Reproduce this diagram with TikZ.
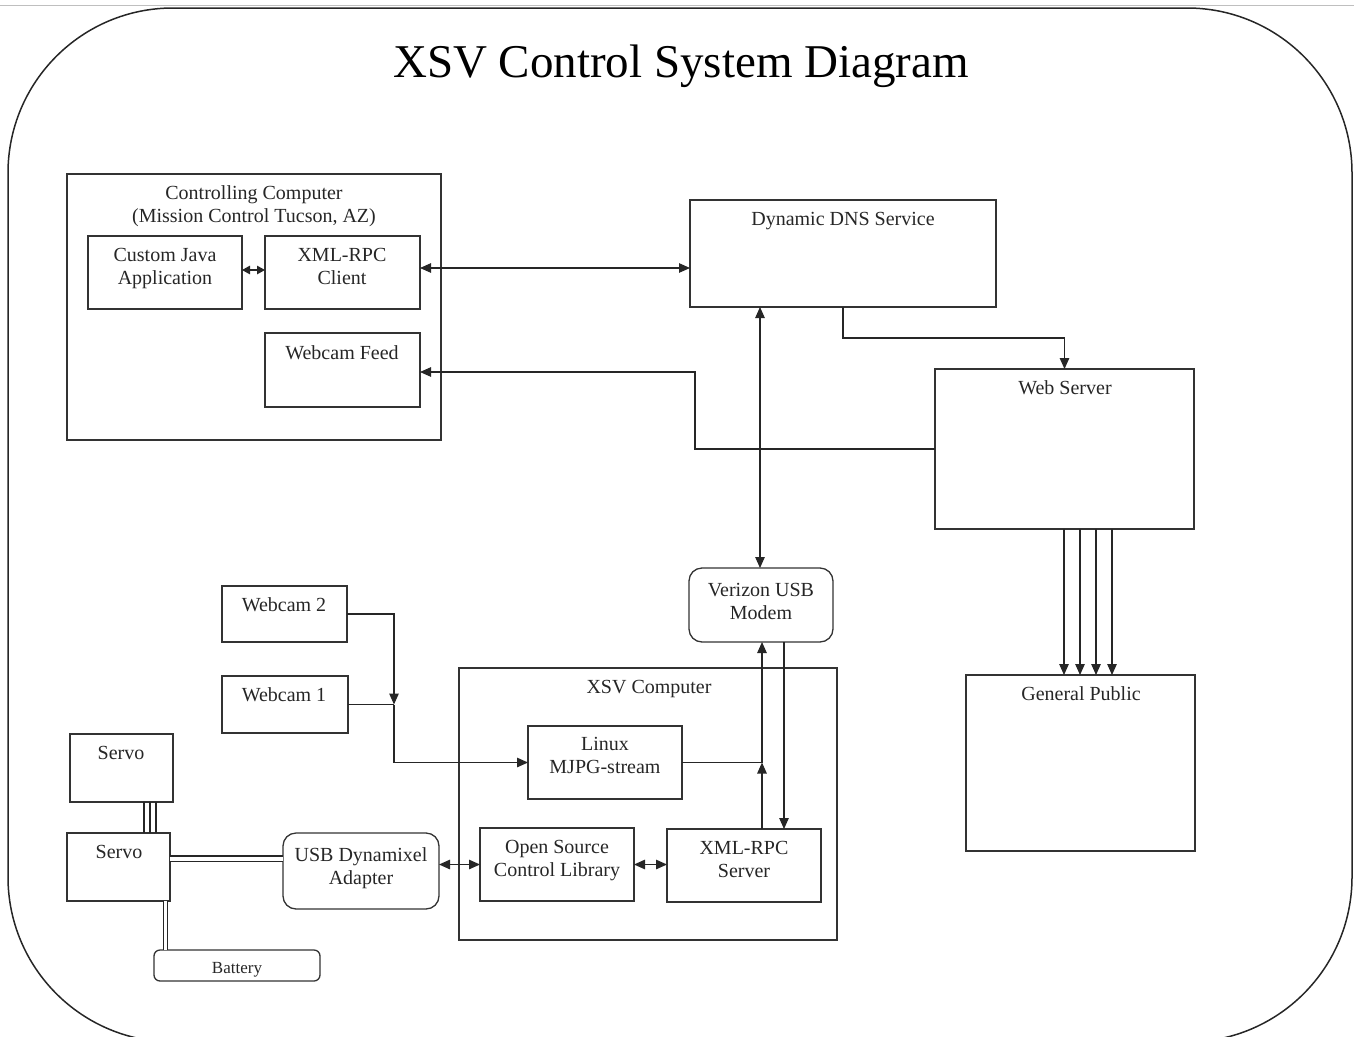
\documentclass[tikz,border=0pt]{standalone}
\usepackage{fontspec}
\setmainfont{Liberation Serif}
\usetikzlibrary{arrows.meta}
\begin{document}
\begin{tikzpicture}[x=1pt,y=-1pt,
  box/.style={draw=black!80, line width=1.3pt, rectangle, inner sep=0pt, outer sep=0pt, anchor=north west},
  rbox/.style={box, rounded corners=13pt},
  lbl/.style={font=\fontsize{20}{23}\selectfont, align=center, anchor=base, inner sep=0pt, text=black!85},
  tip/.tip={Triangle[length=11pt,width=9.5pt]},
  stip/.tip={Triangle[length=8pt,width=8.5pt]},
  arr/.style={line width=1.2pt, draw=black!85, -tip},
  darr/.style={line width=1.2pt, draw=black!85, tip-tip},
  sdarr/.style={line width=1.2pt, draw=black!85, stip-stip},
  wire/.style={line width=1.2pt, draw=black!85},
  dwire/.style={draw=black!85, line width=1.1pt, double, double distance=4pt}]

\useasboundingbox (0,0) rectangle (1354,1036);
\clip (0,0) rectangle (1354,1036);
\draw[black!25, line width=1pt] (0,5) -- (1354,5);
\draw[black!85, line width=1.5pt, rounded corners=165pt] (8,8) rectangle (1352,1042);

\node[font=\fontsize{47}{56}\selectfont, anchor=base, inner sep=0pt] (title) at (681,77) {XSV Control System Diagram};

% Controlling computer
\node[box, minimum width=374pt, minimum height=266pt] (cc) at (67,174) {};
\node[lbl] (cct) at (254,222) {Controlling Computer\\(Mission Control Tucson, AZ)};
\node[box, minimum width=154pt, minimum height=73pt] (cja) at (88,236) {};
\node[lbl] (cjat) at (165,284) {Custom Java\\Application};
\node[box, minimum width=155pt, minimum height=73pt] (xcl) at (265,236) {};
\node[lbl] (xclt) at (342,284) {XML-RPC\\Client};
\node[box, minimum width=155pt, minimum height=74pt] (wf) at (265,333) {};
\node[lbl] (wft) at (342,359) {Webcam Feed};

% DNS, web server, public
\node[box, minimum width=306pt, minimum height=107pt] (dns) at (690,200) {};
\node[lbl] (dnst) at (843,225) {Dynamic DNS Service};
\node[box, minimum width=259pt, minimum height=160pt] (web) at (935,369) {};
\node[lbl] (webt) at (1065,394) {Web Server};
\node[box, minimum width=229pt, minimum height=176pt] (gp) at (966,675) {};
\node[lbl] (gpt) at (1081,700) {General Public};

% Modem
\node[rbox, minimum width=144pt, minimum height=74pt] (vm) at (689,568) {};
\node[lbl] (vmt) at (761,619) {Verizon USB\\Modem};

% XSV computer
\node[box, minimum width=378pt, minimum height=272pt] (xsv) at (459,668) {};
\node[lbl] (xsvt) at (649,693) {XSV Computer};
\node[box, minimum width=154pt, minimum height=73pt] (lin) at (528,726) {};
\node[lbl] (lint) at (605,773) {Linux\\MJPG-stream};
\node[box, minimum width=154pt, minimum height=73pt] (oscl) at (480,828) {};
\node[lbl] (osclt) at (557,876) {Open Source\\Control Library};
\node[box, minimum width=154pt, minimum height=73pt] (xs) at (667,829) {};
\node[lbl] (xst) at (744,877) {XML-RPC\\Server};

% USB adapter
\node[rbox, minimum width=156pt, minimum height=76pt] (usb) at (283,833) {};
\node[lbl] (usbt) at (361,884) {USB Dynamixel\\Adapter};

% Webcams
\node[box, minimum width=125pt, minimum height=56pt] (wc2) at (222,586) {};
\node[lbl] (wc2t) at (284,611) {Webcam 2};
\node[box, minimum width=126pt, minimum height=57pt] (wc1) at (222,676) {};
\node[lbl] (wc1t) at (284,701) {Webcam 1};

% Servos, battery
\node[box, minimum width=103pt, minimum height=68pt] (s1) at (70,734) {};
\node[lbl] (s1t) at (121,759) {Servo};
\node[box, minimum width=103pt, minimum height=68pt] (s2) at (67,833) {};
\node[lbl] (s2t) at (119,858) {Servo};
\node[box, rounded corners=6pt, minimum width=166pt, minimum height=31pt] (bat) at (154,950) {};
\node[lbl, font=\fontsize{17}{20}\selectfont] (batt) at (237,973) {Battery};

% helper coordinates
\coordinate (h268) at (0,268);
\coordinate (k1) at (843,338);
\coordinate (k2) at (695,449);
\coordinate (k3) at (695,372);
\coordinate (x760) at (760,0);
\coordinate (x394) at (394,0);
\coordinate (k6) at (wc1.east -| x394);
\coordinate (x762) at (762,0);
\coordinate (x784) at (784,0);

% connectors
\draw[sdarr] ([yshift=2.5pt]cja.east) -- ([yshift=2.5pt]xcl.west);
\draw[darr] (xcl.east |- h268) -- (dns.west |- h268);
\draw[arr] (dns.south) -- (k1) -| (web.north);
\draw[arr] (web.west |- k2) -- (k2) -- (k3) -- (wf.east |- k3);
\draw[darr] (dns.south -| x760) -- (vm.north -| x760);
\foreach \dx in {-0.5,15.5,31.5,47.5}
  \draw[arr] ([xshift=\dx pt]web.south) -- ([xshift=\dx pt]web.south |- gp.north);
\draw[arr] (wc2.east) -| (k6);
\draw[wire] (wc1.east) -- (k6);
\draw[arr] (k6) |- (lin.west);
\draw[arr] (lin.east) -| (vm.south -| x762);
\draw[arr] (xs.north -| x762) -- (lin.east -| x762);
\draw[arr] (vm.south -| x784) -- (xs.north -| x784);
\draw[darr] (oscl.west -| usb.east) -- (oscl.west);
\draw[darr] (oscl.east) -- (oscl.east -| xs.west);
\draw[dwire] ([yshift=8.5pt]s2.east) -- ([yshift=8.5pt]s2.east -| usb.west);
\foreach \dx in {22.5,28.5,34.5}
  \draw[wire, line width=1.1pt] ([xshift=\dx pt]s1.south) -- ([xshift=\dx pt]s1.south |- s2.north);
\draw[dwire, double distance=3pt] ([xshift=47pt]s2.south) -- ([xshift=47pt]s2.south |- bat.north);
\end{tikzpicture}
\end{document}
